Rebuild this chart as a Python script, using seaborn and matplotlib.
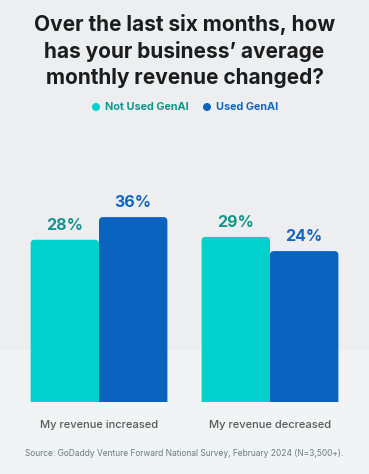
import matplotlib
matplotlib.use("Agg")
import matplotlib.pyplot as plt
import seaborn as sns
import pandas as pd
from matplotlib.patches import FancyBboxPatch, Rectangle, Ellipse

categories = ["My revenue increased", "My revenue decreased"]
groups = ["Not Used GenAI", "Used GenAI"]
not_used = [28, 29]
used = [36, 24]
colors = ["#00D1CD", "#0A63BF"]
label_colors = ["#14958C", "#1565C0"]

df = pd.DataFrame({
    "category": categories * 2,
    "group": [groups[0]] * 2 + [groups[1]] * 2,
    "value": not_used + used,
})

sns.set_theme(style="white")
plt.rcParams["font.family"] = ["Inter", "DejaVu Sans"]

W, H = 369, 474
fig = plt.figure(figsize=(W / 100, H / 100), dpi=100)
fig.patch.set_facecolor("#EDEEF0")
bg = fig.add_axes([0, 0, 1, 1], zorder=0)
bg.set_xlim(0, W)
bg.set_ylim(H, 0)
bg.axis("off")
bg.add_patch(Rectangle((0, 350), W, H - 350, facecolor="#F0F4F5", edgecolor="none"))
for cx, c in [(96, colors[0]), (207, colors[1])]:
    bg.add_patch(Ellipse((cx, 107), 8, 8, facecolor=c, edgecolor="none"))

ax = fig.add_axes([13.5 / W, (H - 402) / H, 342 / W, 252 / H], zorder=1)
ax.set_facecolor("none")
sns.barplot(data=df, x="category", y="value", hue="group", hue_order=groups,
            palette=colors, width=0.8, ax=ax, legend=False, saturation=1)
ymin, ymax = -29.3, 59.7
ax.set_ylim(ymin, ymax)
ax.set_xlim(-0.5, 1.5)

px_x = 342 / 2.0
px_y = 252 / (ymax - ymin)
r_px = 4.0
for i, p in enumerate(list(ax.patches)):
    x0, w, h = p.get_x(), p.get_width(), p.get_height()
    fc = p.get_facecolor()
    p.set_visible(False)
    rs = r_px / px_x
    fb = FancyBboxPatch((x0, ymin - 5), w, h - (ymin - 5),
                        boxstyle=f"round,pad=0,rounding_size={rs}",
                        mutation_aspect=px_x / px_y,
                        facecolor=fc, edgecolor="none", zorder=2, clip_on=True)
    ax.add_patch(fb)
    gi = 0 if i < 2 else 1
    ax.text(x0 + w / 2, h + 2.5, f"{int(round(h))}%", ha="center", va="bottom",
            fontsize=11.5, fontweight="bold", color=label_colors[gi], zorder=3)

for s in ax.spines.values():
    s.set_visible(False)
ax.set_yticks([])
ax.set_xlabel("")
ax.set_ylabel("")
ax.set_xticks([0, 1])
ax.set_xticklabels(categories, fontsize=8, color="#595959", fontweight="medium")
ax.tick_params(axis="x", length=0, pad=13)

fig.text(0.5, 1 - 51 / H, "Over the last six months, how\nhas your business\u2019 average\nmonthly revenue changed?",
         ha="center", va="center", fontsize=15, fontweight="bold", color="#1C1C1C",
         linespacing=1.38)

ly = 1 - 107 / H
fig.text(105 / W, ly, groups[0], ha="left", va="center", fontsize=7.8,
         fontweight="bold", color=label_colors[0])
fig.text(216 / W, ly, groups[1], ha="left", va="center", fontsize=7.8,
         fontweight="bold", color=label_colors[1])

fig.text(0.5, 1 - 453 / H, "Source: GoDaddy Venture Forward National Survey, February 2024 (N=3,500+).",
         ha="center", va="center", fontsize=6.05, color="#6B7B82")

fig.savefig("out.png", dpi=100, facecolor=fig.get_facecolor())
